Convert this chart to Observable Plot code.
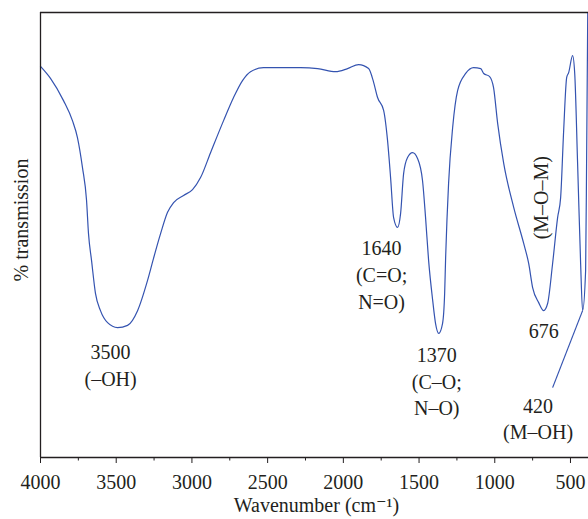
<!DOCTYPE html>
<html>
<head>
<meta charset="utf-8">
<script src="https://cdn.jsdelivr.net/npm/d3@7"></script>
<script src="https://cdn.jsdelivr.net/npm/@observablehq/plot@0.6"></script>
<style>
  body { margin: 0; background: #fff; }
  #chart svg { display: block; }
</style>
</head>
<body>
<div id="chart"></div>
<script>
// FTIR spectrum (wavenumber in cm^-1, transmission in arbitrary %)
const wavenumber = [
  4000, 3934, 3848, 3789, 3756, 3723, 3696, 3683, 3663, 3637, 3604, 3557, 3491, 3425, 3359, 3293,
  3254, 3207, 3161, 3121, 3055, 2996, 2943, 2877, 2791, 2725, 2666, 2613, 2527, 2282, 2170, 2051,
  1972, 1899, 1833, 1800, 1774, 1734, 1708, 1688, 1668, 1642, 1622, 1602, 1576, 1543, 1510, 1477,
  1457, 1437, 1410, 1391, 1370, 1345, 1331, 1325, 1305, 1278, 1245, 1192, 1140, 1093, 1073, 1034,
  1008, 981, 941, 875, 809, 776, 750, 710, 677, 651, 618, 585, 565, 545, 525, 512,
  486, 472, 453, 433, 420, 400, 393, 386
];
const transmission = [
  87.9, 85.2, 80.2, 75.7, 71.9, 65.2, 57.8, 50.3, 44.3, 36.9, 33.0, 30.3, 29.2, 29.7, 33.0, 39.8,
  44.7, 50.3, 55.1, 57.3, 58.9, 60.2, 62.9, 68.5, 75.7, 80.9, 84.7, 86.7, 87.6, 87.6, 87.4, 86.7,
  87.4, 88.3, 87.4, 84.3, 80.9, 78.0, 71.2, 62.9, 53.9, 51.7, 54.8, 63.8, 67.4, 68.5, 67.2, 62.2,
  53.9, 44.3, 35.3, 30.1, 27.9, 30.1, 36.9, 44.3, 61.6, 74.2, 82.5, 86.3, 87.6, 87.4, 86.3, 85.6,
  83.1, 75.1, 66.1, 56.2, 48.1, 43.6, 38.2, 34.8, 33.0, 34.6, 43.6, 53.9, 58.4, 73.5, 85.4, 86.5,
  90.3, 86.3, 66.1, 43.6, 33.0, 42.0, 69.0, 100
];
const majorTicks = [4000, 3500, 3000, 2500, 2000, 1500, 1000, 500];
const minorTicks = [3750, 3250, 2750, 2250, 1750, 1250, 750];

// Band annotations: band position (cm^-1) and its label lines
const bandPositions = [3491, 1642, 1370, 677, 420];
const bandLabels = ["3500\n(–OH)", "1640\n(C=O;\nN=O)", "1370\n(C–O;\nN–O)", "676", "420\n(M–OH)"];
const momLabel = "(M–O–M)";
const leaderEnd = {w: 618, t: 15.7};

const spectrum = wavenumber.map((w, i) => ({w, t: transmission[i]}));
const tAt = (w) => spectrum.find(d => d.w === w).t;
const bands = bandPositions.map((w, i) => ({w, t: tAt(w), label: bandLabels[i]}));

const FONT = "'Liberation Serif', 'DejaVu Serif', serif";
const FS = 20;
const INK = "#231f20";
const BLUE = "#3453b0";

const labelMark = (i, dx, dy) => Plot.text([bands[i]], {
  x: "w", y: "t", text: "label", dx, dy,
  lineAnchor: "middle", lineHeight: 1.33, fontSize: FS, fill: INK, textAnchor: "middle"
});

const chart = Plot.plot({
  width: 588,
  height: 519,
  marginLeft: 40,
  marginRight: 0,
  marginTop: 12,
  marginBottom: 62,
  style: {fontFamily: FONT, fontSize: FS + "px", color: INK, background: "#fff"},
  x: {domain: [4000, 381]},
  y: {domain: [0, 100], axis: null},
  marks: [
    Plot.line(spectrum, {x: "w", y: "t", stroke: BLUE, strokeWidth: 1.2, curve: "monotone-x"}),
    Plot.link([bands[4]], {x1: "w", y1: "t", x2: () => leaderEnd.w, y2: () => leaderEnd.t, stroke: BLUE, strokeWidth: 1.2}),
    Plot.ruleX([4000], {stroke: INK, strokeWidth: 1.3}),
    Plot.ruleY([0, 100], {stroke: INK, strokeWidth: 1.3}),
    Plot.axisX({ticks: majorTicks, tickSize: 6, tickPadding: 11, tickFormat: d => String(d),
      fontSize: FS, stroke: INK, fill: INK, label: null}),
    Plot.axisX({ticks: minorTicks, tickSize: 3.5, text: null, stroke: INK, label: null}),
    labelMark(0, -7, 36.5),
    labelMark(1, -16, 46),
    labelMark(2, -2, 47),
    labelMark(3, 0, 19),
    labelMark(4, -44.5, 107),
    Plot.text([momLabel], {x: () => bandPositions[3], y: () => bands[3].t, text: d => d,
      dx: -2, dy: -113, rotate: -90, fontSize: FS, fill: INK, textAnchor: "middle", lineAnchor: "middle"}),
    Plot.text(["Wavenumber (cm⁻¹)"], {frameAnchor: "bottom", text: d => d, dx: 2, dy: 48,
      fontSize: FS, fill: INK, lineAnchor: "middle"}),
    Plot.text(["% transmission"], {frameAnchor: "left", text: d => d, dx: -19, dy: -15, rotate: -90,
      fontSize: FS, fill: INK, lineAnchor: "middle", textAnchor: "middle"})
  ]
});
document.getElementById("chart").appendChild(chart);
</script>
</body>
</html>
